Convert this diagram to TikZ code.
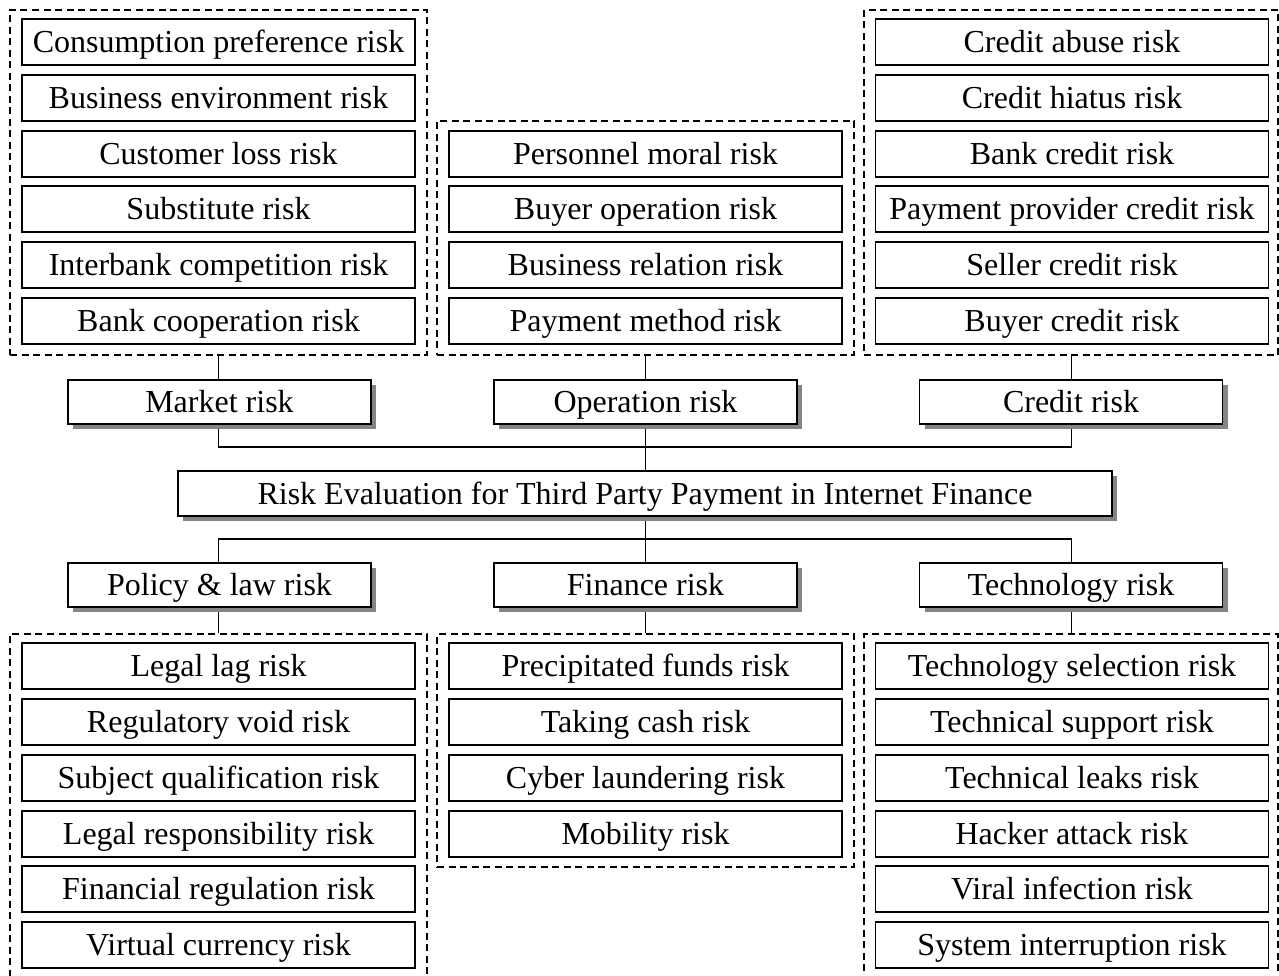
\documentclass[tikz,border=0pt]{standalone}
\usepackage{fontspec}
\setmainfont{Liberation Serif}
\usetikzlibrary{shadows}
\tikzset{
  leaf/.style={draw, line width=1.6pt, fill=white, minimum width=393pt, minimum height=46pt, inner sep=0pt, text height=23pt, text depth=2pt, font=\fontsize{32}{36}\selectfont},
  catbox/.style={leaf, minimum width=303pt, minimum height=44pt, drop shadow={shadow xshift=5pt, shadow yshift=-5pt, fill=black!48, opacity=1}},
  rootbox/.style={catbox, minimum width=934pt, minimum height=45pt},
  grp/.style={draw, line width=1.3pt, dash pattern=on 7pt off 4.5pt, inner sep=0pt, text height=0pt, text depth=0pt},
  conn/.style={line width=1.6pt}
}
\begin{document}
\begin{tikzpicture}[x=1pt,y=-1pt]
\useasboundingbox (0,0) rectangle (1279,976);
\clip (0,0) rectangle (1279,976);
% dashed groups
\node[grp, minimum width=417pt, minimum height=345pt] (g1) at (218.5,182.5) {};
\node[grp, minimum width=417pt, minimum height=234pt] (g2) at (645.5,238) {};
\node[grp, minimum width=414pt, minimum height=345pt] (g3) at (1071,182.5) {};
\node[grp, minimum width=417pt, minimum height=360pt] (g4) at (218.5,814) {};
\node[grp, minimum width=417pt, minimum height=233pt] (g5) at (645.5,750.5) {};
\node[grp, minimum width=414pt, minimum height=360pt] (g6) at (1071,814) {};
% top-left leaves
\node[leaf] (a1) at (218.5,42) {Consumption preference risk};
\node[leaf] (a2) at (218.5,98) {Business environment risk};
\node[leaf] (a3) at (218.5,154) {Customer loss risk};
\node[leaf] (a4) at (218.5,209) {Substitute risk};
\node[leaf] (a5) at (218.5,265) {Interbank competition risk};
\node[leaf] (a6) at (218.5,321) {Bank cooperation risk};
% top-middle leaves
\node[leaf] (b1) at (645.5,154) {Personnel moral risk};
\node[leaf] (b2) at (645.5,209) {Buyer operation risk};
\node[leaf] (b3) at (645.5,265) {Business relation risk};
\node[leaf] (b4) at (645.5,321) {Payment method risk};
% top-right leaves
\node[leaf] (c1) at (1072,42) {Credit abuse risk};
\node[leaf] (c2) at (1072,98) {Credit hiatus risk};
\node[leaf] (c3) at (1072,154) {Bank credit risk};
\node[leaf] (c4) at (1072,209) {Payment provider credit risk};
\node[leaf] (c5) at (1072,265) {Seller credit risk};
\node[leaf] (c6) at (1072,321) {Buyer credit risk};
% bottom-left leaves
\node[leaf] (d1) at (218.5,666) {Legal lag risk};
\node[leaf] (d2) at (218.5,722) {Regulatory void risk};
\node[leaf] (d3) at (218.5,778) {Subject qualification risk};
\node[leaf] (d4) at (218.5,834) {Legal responsibility risk};
\node[leaf] (d5) at (218.5,889) {Financial regulation risk};
\node[leaf] (d6) at (218.5,945) {Virtual currency risk};
% bottom-middle leaves
\node[leaf] (e1) at (645.5,666) {Precipitated funds risk};
\node[leaf] (e2) at (645.5,722) {Taking cash risk};
\node[leaf] (e3) at (645.5,778) {Cyber laundering risk};
\node[leaf] (e4) at (645.5,834) {Mobility risk};
% bottom-right leaves
\node[leaf] (f1) at (1072,666) {Technology selection risk};
\node[leaf] (f2) at (1072,722) {Technical support risk};
\node[leaf] (f3) at (1072,778) {Technical leaks risk};
\node[leaf] (f4) at (1072,834) {Hacker attack risk};
\node[leaf] (f5) at (1072,889) {Viral infection risk};
\node[leaf] (f6) at (1072,945) {System interruption risk};
% connectors (drawn before shadowed boxes)
\coordinate (jt) at (645.5,447);
\coordinate (jb) at (645.5,539);
\draw[conn] (g1.south) -- (218.5,380);
\draw[conn] (g2.south) -- (645.5,380);
\draw[conn] (g3.south -| 1071.5,0) -- (1071.5,380);
\draw[conn] (218.5,424) |- (jt) -| (1071.5,424);
\draw[conn] (645.5,424) -- (jt) -- (645.5,471);
\draw[conn] (645.5,516) -- (jb);
\draw[conn] (218.5,563) |- (jb) -| (1071.5,563);
\draw[conn] (jb) -- (645.5,563);
\draw[conn] (218.5,607) -- (g4.north);
\draw[conn] (645.5,607) -- (g5.north);
\draw[conn] (1071.5,607) -- (g6.north -| 1071.5,0);
% category boxes
\node[catbox] (m) at (219.5,402) {Market risk};
\node[catbox] (o) at (645.5,402) {Operation risk};
\node[catbox] (cr) at (1071,402) {Credit risk};
\node[rootbox] (r) at (645,493.5) {Risk Evaluation for Third Party Payment in Internet Finance};
\node[catbox] (p) at (219.5,585) {Policy \& law risk};
\node[catbox] (fi) at (645.5,585) {Finance risk};
\node[catbox] (t) at (1071,585) {Technology risk};
\end{tikzpicture}
\end{document}
